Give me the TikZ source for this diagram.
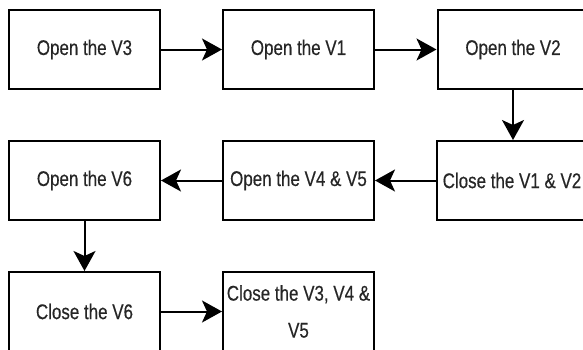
\documentclass[tikz,border=0pt]{standalone}
\usepackage{fontspec}
\setmainfont{Liberation Sans}[FakeStretch=0.8,FakeBold=0.4]
\usetikzlibrary{arrows.meta}

\begin{document}
\begin{tikzpicture}[x=1pt,y=-1pt,
  valve/.style={draw, line width=2pt, minimum width=151pt, minimum height=79pt, inner sep=0pt, align=center, text=black!85, font=\fontsize{21.2}{37}\selectfont},
  flow/.style={-{Stealth[length=20pt,width=22pt,inset=5pt]}, line width=2pt}]
\useasboundingbox (0,0) rectangle (583,349);
% opening sequence
\node[valve] (open3) at (84.5,49.5) {Open the V3};
\node[valve] (open1) at (298.5,49.5) {Open the V1};
\node[valve] (open2) at (513,49.5) {Open the V2};
% second row runs right to left
\node[valve] (close12) at (512,180.5) {Close the V1 \& V2};
\node[valve] (open45) at (298.5,180.5) {Open the V4 \& V5};
\node[valve] (open6) at (84.5,180.5) {Open the V6};
\node[valve] (close6) at (84.5,311.5) {Close the V6};
\node[valve] (close345) at (298.5,311.5) {Close the V3, V4 \&\\V5};
\draw[flow] (open3) -- (open1);
\draw[flow] (open1) -- (open2);
\draw[flow] (open2) -- (close12.north -| open2);
\draw[flow] (close12) -- (open45);
\draw[flow] (open45) -- (open6);
\draw[flow] (open6) -- (close6);
\draw[flow] (close6) -- (close345);
\end{tikzpicture}
\end{document}
